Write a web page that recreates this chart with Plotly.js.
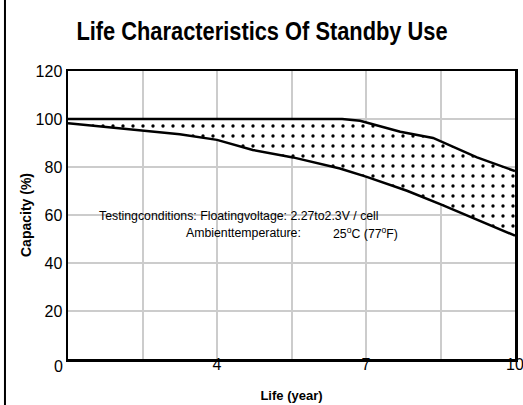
<!DOCTYPE html>
<html>
<head>
<meta charset="utf-8">
<script src="https://cdn.plot.ly/plotly-3.0.1.min.js"></script>
<style>html,body{margin:0;padding:0;background:#fff;}#chart{width:523px;height:405px;}</style>
</head>
<body>
<div id="chart"></div>
<script>
// Grid column positions (axis is labelled 0, 4, 7, 10 on every second gridline)
const xTickPos = [0, 1, 2, 3, 4, 5, 6];
const xTickText = ['', '', '4', '', '7', '', '10'];
const yTickVals = [20, 40, 60, 80, 100, 120];
const yTickText = ['20', '40', '60', '80', '100', '120'];
const cornerLabel = '0';

// Upper boundary of capacity band
const upperX = [0, 3.68, 3.92, 4.46, 4.90, 5.02, 5.26, 5.49, 6.0];
const upperY = [100, 100, 99.3, 94.7, 92.1, 90.5, 87.0, 84.0, 78.3];
// Lower boundary of capacity band
const lowerX = [0, 0.43, 1.0, 1.5, 2.0, 2.48, 3.02, 3.65, 4.01, 4.55, 5.02, 5.49, 6.0];
const lowerY = [98.2, 96.8, 95.0, 93.6, 91.3, 87.1, 84.0, 79.4, 75.9, 70.1, 64.2, 57.9, 51.4];

const titleText = 'Life Characteristics Of Standby Use';
const xTitle = 'Life (year)';
const yTitle = 'Capacity (%)';
const noteLine1 = 'Testingconditions: Floatingvoltage: 2.27to2.3V / cell';
const noteLine2a = 'Ambienttemperature:';
const noteLine2b = '25<sup>o</sup>C (77<sup>o</sup>F)';

const sans = '"Liberation Sans", Arial, sans-serif';

const traces = [
  {
    x: upperX, y: upperY, type: 'scatter', mode: 'lines',
    line: {color: '#000', width: 2.5}, hoverinfo: 'skip', showlegend: false
  },
  {
    x: lowerX, y: lowerY, type: 'scatter', mode: 'lines',
    line: {color: '#000', width: 2.5}, fill: 'tonexty', fillcolor: 'rgba(0,0,0,0)',
    fillpattern: {shape: '.', fgcolor: '#000', bgcolor: '#fff', size: 10, solidity: 0.09},
    hoverinfo: 'skip', showlegend: false
  }
];

const layout = {
  width: 523, height: 405,
  margin: {l: 68, r: 8, t: 71, b: 46},
  paper_bgcolor: '#fff', plot_bgcolor: '#fff',
  title: {
    text: '<b>' + titleText + '</b>',
    font: {family: sans, size: 26, color: '#000'},
    xref: 'container', yref: 'container', x: 0.501, y: 0.923,
    xanchor: 'center', yanchor: 'middle'
  },
  xaxis: {
    range: [0, 6], tickmode: 'array', tickvals: xTickPos, ticktext: xTickText,
    showgrid: true, gridcolor: '#cccccc', gridwidth: 2,
    zeroline: false, showline: true, mirror: true, linecolor: '#000', linewidth: 2.5,
    ticks: '', tickfont: {family: sans, size: 16, color: '#000'},
    ticklabelstandoff: -11, ticklabeloverflow: 'allow',
    title: {text: '<b>' + xTitle + '</b>', font: {family: sans, size: 13, color: '#000'}, standoff: 19},
    fixedrange: true
  },
  yaxis: {
    range: [0, 120], tickmode: 'array', tickvals: yTickVals, ticktext: yTickText,
    showgrid: true, gridcolor: '#cccccc', gridwidth: 2,
    zeroline: false, showline: true, mirror: true, linecolor: '#000', linewidth: 2.5,
    ticks: '', tickfont: {family: sans, size: 16, color: '#000'},
    title: {text: '<b>' + yTitle + '</b>', font: {family: sans, size: 14, color: '#000'}, standoff: 1},
    fixedrange: true
  },
  annotations: [
    {x: 0, y: 0, xref: 'x', yref: 'y', text: cornerLabel, showarrow: false,
     xanchor: 'center', yanchor: 'middle', xshift: -10, yshift: -7,
     font: {family: sans, size: 16, color: '#000'}},
    {x: 0.39, y: 60, xref: 'x', yref: 'y', text: noteLine1, showarrow: false,
     xanchor: 'left', yanchor: 'middle', yshift: -1,
     font: {family: sans, size: 12.3, color: '#000'}},
    {x: 1.56, y: 60, xref: 'x', yref: 'y', text: noteLine2a, showarrow: false,
     xanchor: 'left', yanchor: 'middle', yshift: -18,
     font: {family: sans, size: 12.3, color: '#000'}},
    {x: 4.46, y: 60, xref: 'x', yref: 'y', text: noteLine2b, showarrow: false,
     xanchor: 'right', yanchor: 'middle', yshift: -18,
     font: {family: sans, size: 12.3, color: '#000'}}
  ],
  shapes: [
    {type: 'line', xref: 'paper', yref: 'paper', x0: -0.141, x1: -0.141, y0: -0.17, y1: 1.26,
     line: {color: '#000', width: 2}}
  ]
};

Plotly.newPlot('chart', traces, layout, {staticPlot: true, displayModeBar: false}).then(function (gd) {
  // The reference title is set in a condensed face; narrow the drawn title text horizontally.
  const t = gd.querySelector('.gtitle');
  if (t) {
    const bb = t.getBBox();
    const cx = bb.x + bb.width / 2;
    const prev = t.getAttribute('transform') || '';
    t.setAttribute('transform', prev + ' translate(' + cx + ',0) scale(0.84,1) translate(' + (-cx) + ',0)');
  }
});
</script>
</body>
</html>
